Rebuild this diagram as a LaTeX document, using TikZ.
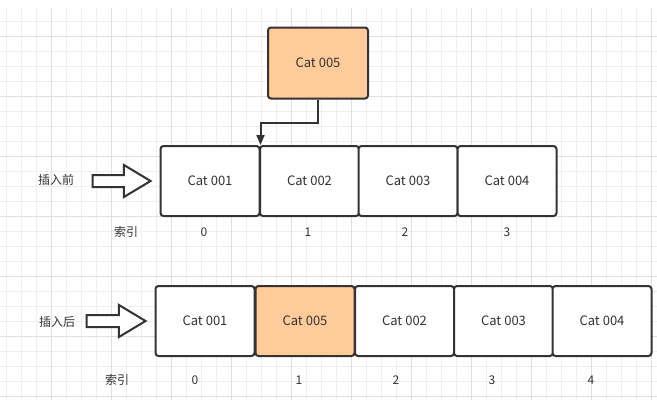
\documentclass[tikz,border=0pt]{standalone}
\usepackage{fontspec}
\setmainfont{Noto Sans CJK SC}
\usetikzlibrary{arrows.meta,shapes.arrows}
\definecolor{inkgrey}{HTML}{333333}
\definecolor{catorange}{HTML}{FFCC99}
\definecolor{gridlight}{HTML}{EFEFEF}
\definecolor{griddark}{HTML}{E0E0E0}
\tikzset{
	cat/.style={draw=inkgrey, line width=2pt, rounded corners=3pt, fill=white,
			minimum width=99pt, minimum height=70pt, text=inkgrey,
			font=\fontsize{13}{15}\selectfont},
	newcat/.style={cat, fill=catorange},
	tag/.style={text=inkgrey, font=\fontsize{12}{14}\selectfont, inner sep=0pt},
	bigarrow/.style={single arrow, draw=inkgrey, line width=2pt, fill=white,
			minimum height=58pt, single arrow head extend=10pt,
			single arrow tip angle=62, inner xsep=0pt, inner ysep=5pt},
	flow/.style={draw=inkgrey, line width=2pt, -{Triangle[length=10pt,width=8pt]}}
}

\begin{document}
\begin{tikzpicture}[x=1pt, y=-1pt]
		\useasboundingbox (0,0) rectangle (657,400);
		% background grid
		\foreach \gx in {6.3,21.3,...,655} \draw[gridlight] (\gx,8) -- (\gx,400);
		\foreach \gy in {21.3,36.3,...,399} \draw[gridlight] (0,\gy) -- (657,\gy);
		\foreach \gx in {51.3,111.3,...,655} \draw[griddark] (\gx,8) -- (\gx,400);
		\foreach \gy in {36.3,96.3,...,399} \draw[griddark] (0,\gy) -- (657,\gy);

		% before insert
		\node[newcat, minimum width=100pt, minimum height=71pt] (c5) at (318,63) {Cat 005};
		\node[cat] (t1) at (210,181) {Cat 001};
		\node[cat] (t2) at (309.5,181) {Cat 002};
		\node[cat] (t3) at (408,181) {Cat 003};
		\node[cat] (t4) at (507,181) {Cat 004};
		\draw[flow] (c5.south) -- ++(0,23) -| (t1.north east);
		\node[bigarrow, anchor=tip] (a1) at ([xshift=-7pt]t1.west) {};
		\node[tag] (before) at (56,180) {插入前};
		\node[tag] (idx1) at (126,232) {索引};
		\node[tag] at (204,232) {0};
		\node[tag] at (308,232) {1};
		\node[tag] at (405,232) {2};
		\node[tag] at (507,232) {3};

		% after insert
		\node[cat] (b1) at (205,321) {Cat 001};
		\node[newcat] (b2) at (305,321) {Cat 005};
		\node[cat] (b3) at (404.5,321) {Cat 002};
		\node[cat] (b4) at (503.5,321) {Cat 003};
		\node[cat] (b5) at (602,321) {Cat 004};
		\node[bigarrow, anchor=tip, minimum height=59pt] (a2) at ([xshift=-7pt]b1.west) {};
		\node[tag] (after) at (57,322) {插入后};
		\node[tag] (idx2) at (117,380) {索引};
		\node[tag] at (195,380) {0};
		\node[tag] at (299,380) {1};
		\node[tag] at (396,380) {2};
		\node[tag] at (492,380) {3};
		\node[tag] at (591,380) {4};
	\end{tikzpicture}
\end{document}
